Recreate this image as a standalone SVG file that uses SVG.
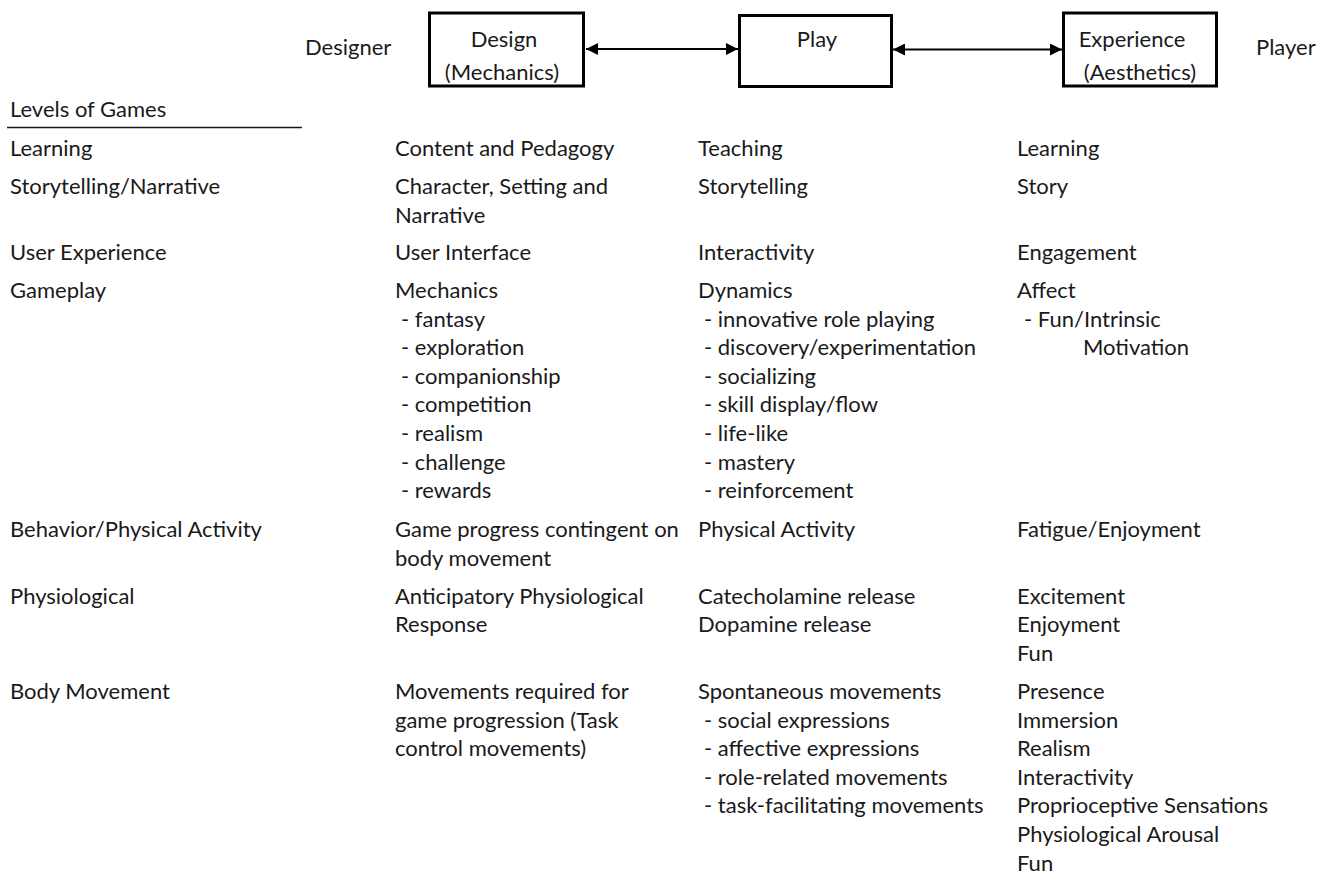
<svg xmlns="http://www.w3.org/2000/svg" width="1328" height="875" viewBox="0 0 1328 875">
  <style>
    text { font-family: Lato, "Liberation Sans", sans-serif; font-size: 22px; fill: #1a1a1a; }
    .box { fill: #ffffff; stroke: #000000; stroke-width: 3; }
    .mid { text-anchor: middle; }
    .conn { stroke: #000000; stroke-width: 2; fill: none; }
  </style>
  <defs>
    <marker id="arrow" viewBox="0 0 12 12" refX="12" refY="6" markerWidth="12" markerHeight="12" markerUnits="userSpaceOnUse" orient="auto-start-reverse">
      <path d="M0,0 L12,6 L0,12 z" fill="#000000"/>
    </marker>
  </defs>
  <rect width="1328" height="875" fill="#ffffff"/>

  <g id="connectors">
    <line class="conn" x1="586" y1="49" x2="738" y2="49" marker-start="url(#arrow)" marker-end="url(#arrow)"/>
    <line class="conn" x1="893" y1="49.5" x2="1062" y2="49.5" marker-start="url(#arrow)" marker-end="url(#arrow)"/>
  </g>

  <g id="designer-label"><text x="305" y="55">Designer</text></g>
  <g id="player-label"><text x="1256" y="55">Player</text></g>

  <g id="node-design">
    <rect class="box" x="429.5" y="13" width="154" height="73"/>
    <text class="mid" x="504" y="46.5">Design</text>
    <text class="mid" x="502" y="80">(Mechanics)</text>
  </g>
  <g id="node-play">
    <rect class="box" x="739.5" y="15.5" width="152" height="71"/>
    <text class="mid" x="817" y="47">Play</text>
  </g>
  <g id="node-experience">
    <rect class="box" x="1063.5" y="13" width="153" height="73"/>
    <text class="mid" x="1132" y="47">Experience</text>
    <text class="mid" x="1140" y="80">(Aesthetics)</text>
  </g>

  <g id="levels-column">
    <text x="10" y="117">Levels of Games</text>
    <line x1="7" y1="127.5" x2="302" y2="127.5" stroke="#1a1a1a" stroke-width="1.5"/>
    <text x="10" y="156">Learning</text>
    <text x="10" y="194">Storytelling/Narrative</text>
    <text x="10" y="260">User Experience</text>
    <text x="10" y="298">Gameplay</text>
    <text x="10" y="537">Behavior/Physical Activity</text>
    <text x="10" y="603.5">Physiological</text>
    <text x="10" y="699">Body Movement</text>
  </g>

  <g id="design-column">
    <text x="395" y="156">Content and Pedagogy</text>
    <text x="395" y="194">Character, Setting and</text>
    <text x="395" y="222.6">Narrative</text>
    <text x="395" y="260">User Interface</text>
    <text x="395" y="298">Mechanics</text>
    <text x="401" y="326.6">- fantasy</text>
    <text x="401" y="355.2">- exploration</text>
    <text x="401" y="383.8">- companionship</text>
    <text x="401" y="412.4">- competition</text>
    <text x="401" y="441">- realism</text>
    <text x="401" y="469.6">- challenge</text>
    <text x="401" y="498.2">- rewards</text>
    <text x="395" y="537">Game progress contingent on</text>
    <text x="395" y="565.6">body movement</text>
    <text x="395" y="603.5">Anticipatory Physiological</text>
    <text x="395" y="632">Response</text>
    <text x="395" y="699">Movements required for</text>
    <text x="395" y="727.6">game progression (Task</text>
    <text x="395" y="756.2">control movements)</text>
  </g>

  <g id="play-column">
    <text x="698" y="156">Teaching</text>
    <text x="698" y="194">Storytelling</text>
    <text x="698" y="260">Interactivity</text>
    <text x="698" y="298">Dynamics</text>
    <text x="704" y="326.6">- innovative role playing</text>
    <text x="704" y="355.2">- discovery/experimentation</text>
    <text x="704" y="383.8">- socializing</text>
    <text x="704" y="412.4">- skill display/flow</text>
    <text x="704" y="441">- life-like</text>
    <text x="704" y="469.6">- mastery</text>
    <text x="704" y="498.2">- reinforcement</text>
    <text x="698" y="537">Physical Activity</text>
    <text x="698" y="603.5">Catecholamine release</text>
    <text x="698" y="632">Dopamine release</text>
    <text x="698" y="699">Spontaneous movements</text>
    <text x="704" y="727.6">- social expressions</text>
    <text x="704" y="756.2">- affective expressions</text>
    <text x="704" y="784.8">- role-related movements</text>
    <text x="704" y="813.4">- task-facilitating movements</text>
  </g>

  <g id="experience-column">
    <text x="1017" y="156">Learning</text>
    <text x="1017" y="194">Story</text>
    <text x="1017" y="260">Engagement</text>
    <text x="1017" y="298">Affect</text>
    <text x="1024" y="326.6">- Fun/Intrinsic</text>
    <text x="1083" y="355.2">Motivation</text>
    <text x="1017" y="537">Fatigue/Enjoyment</text>
    <text x="1017" y="603.5">Excitement</text>
    <text x="1017" y="632">Enjoyment</text>
    <text x="1017" y="660.6">Fun</text>
    <text x="1017" y="699">Presence</text>
    <text x="1017" y="727.6">Immersion</text>
    <text x="1017" y="756.2">Realism</text>
    <text x="1017" y="784.8">Interactivity</text>
    <text x="1017" y="813.4">Proprioceptive Sensations</text>
    <text x="1017" y="842">Physiological Arousal</text>
    <text x="1017" y="870.6">Fun</text>
  </g>
</svg>
